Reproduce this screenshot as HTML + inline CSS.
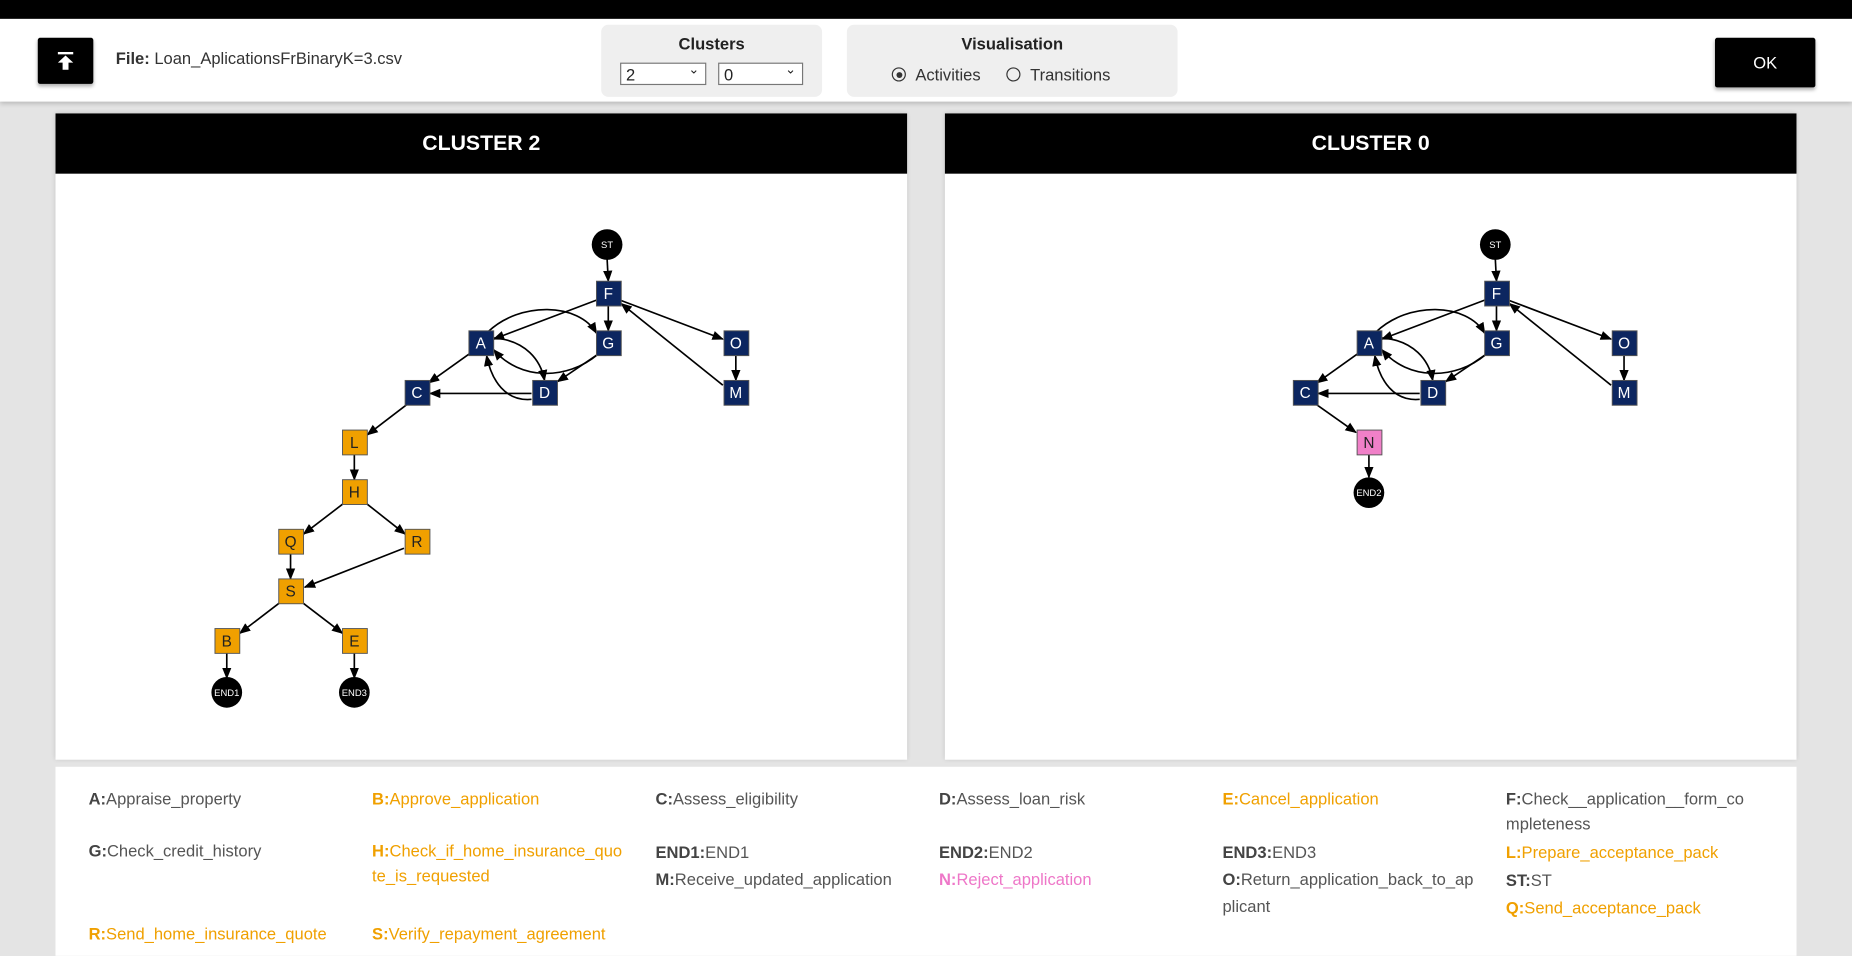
<!DOCTYPE html>
<html><head><meta charset="utf-8"><style>
html,body{margin:0;padding:0;width:1852px;height:944px;overflow:hidden;background:#e4e4e4;}
#w{position:absolute;left:0;top:0;width:1568px;height:799px;transform:scale(1.18112,1.1815);transform-origin:0 0;font-family:"Liberation Sans",sans-serif;}
.abs{position:absolute}
.tb{position:absolute;left:0;top:16px;width:1568px;height:70px;background:#fff;box-shadow:0 2px 4px rgba(0,0,0,.2)}
.grp{position:absolute;background:#efefef;border-radius:6px;top:21px;height:61px}
.grp .t{position:absolute;top:8px;width:100%;text-align:center;font-weight:bold;font-size:14px;color:#222}
.sel{position:absolute;top:32px;height:19px;border:1px solid #777;background:#fff;font-size:14px;color:#222;box-sizing:border-box;padding-left:4px;line-height:18px}
.sel:after{content:"⌄";position:absolute;right:5px;top:-4px;font-size:11px}
.panel{position:absolute;top:96px;width:721px;height:547px;background:#fff;box-shadow:0 0 4px rgba(0,0,0,.15)}
.ph{height:51px;background:#000;color:#fff;font-weight:bold;font-size:18px;text-align:center;line-height:50px}
.leg{position:absolute;left:47px;top:649px;width:1474px;height:160px;background:#fff}
.li{position:absolute;font-size:14px;color:#555;line-height:21px;width:218px;word-break:break-all}
.li b{color:#444}
.o{color:#f0a000}.o b{color:#f0a000}
.p{color:#ee77c8}.p b{color:#ee77c8}
</style></head><body><div id="w">
<div class="abs" style="left:0;top:0;width:1568px;height:16px;background:#000"></div>
<div class="tb"></div>
<div class="abs" style="left:32px;top:32px;width:47px;height:39px;background:#000;border-radius:2px;box-shadow:0 2px 3px rgba(0,0,0,.3)">
<svg width="47" height="39"><rect x="17" y="12" width="13" height="2" fill="#fff"/><path d="M23.5 15 L17 21 H21 V27 H26 V21 H30 Z" fill="#fff"/></svg></div>
<div class="abs" style="left:98px;top:41px;font-size:14px;color:#333"><b>File:</b> Loan_AplicationsFrBinaryK=3.csv</div>
<div class="grp" style="left:509px;width:187px"><div class="t">Clusters</div>
<div class="sel" style="left:16px;width:73px">2</div><div class="sel" style="left:99px;width:72px">0</div></div>
<div class="grp" style="left:717px;width:280px"><div class="t">Visualisation</div>
<div class="abs" style="left:38px;top:34px;font-size:14px;color:#333">
<span style="display:inline-block;width:10px;height:10px;border:1px solid #333;border-radius:50%;position:relative;top:1px;margin-right:8px"><span style="position:absolute;left:2.5px;top:2.5px;width:5px;height:5px;border-radius:50%;background:#333"></span></span>Activities
<span style="display:inline-block;width:10px;height:10px;border:1px solid #333;border-radius:50%;position:relative;top:1px;margin:0 8px 0 18px"></span>Transitions</div></div>
<div class="abs" style="left:1452px;top:32px;width:85px;height:42px;background:#000;color:#fff;font-size:14px;text-align:center;line-height:42px;border-radius:2px;box-shadow:0 2px 3px rgba(0,0,0,.3)">OK</div>

<div class="panel" style="left:47px"><div class="ph">CLUSTER 2</div></div>
<div class="panel" style="left:800px"><div class="ph">CLUSTER 0</div></div>

<svg class="abs" style="left:0;top:0" width="1568" height="650" font-family="Liberation Sans,sans-serif">
<defs><marker id="ar" viewBox="0 0 10 10" refX="9" refY="5" markerWidth="7" markerHeight="7" orient="auto"><path d="M0 1 L10 5 L0 9 Z" fill="#000"/></marker></defs>
<g fill="none" stroke="#000" stroke-width="1.4" marker-end="url(#ar)">
<path d="M514 219 L515 238"/>
<path d="M505 254 L418 287"/>
<path d="M515 259 L515 280"/>
<path d="M525 254 L612 287"/>
<path d="M623 301 L623 322"/>
<path d="M612 326 L526 257"/>
<path d="M413 281 C440 255 490 256 505 282"/>
<path d="M506 300 C480 322 440 322 418 296"/>
<path d="M418 286 C445 288 458 305 461 322"/>
<path d="M450 338 C428 340 416 322 412 301"/>
<path d="M506 300 L472 323"/>
<path d="M450 333 L364 333"/>
<path d="M398 299 L363 324"/>
</g>
<g transform="translate(752,0)" fill="none" stroke="#000" stroke-width="1.4" marker-end="url(#ar)">
<path d="M514 219 L515 238"/>
<path d="M505 254 L418 287"/>
<path d="M515 259 L515 280"/>
<path d="M525 254 L612 287"/>
<path d="M623 301 L623 322"/>
<path d="M612 326 L526 257"/>
<path d="M413 281 C440 255 490 256 505 282"/>
<path d="M506 300 C480 322 440 322 418 296"/>
<path d="M418 286 C445 288 458 305 461 322"/>
<path d="M450 338 C428 340 416 322 412 301"/>
<path d="M506 300 L472 323"/>
<path d="M450 333 L364 333"/>
<path d="M398 299 L363 324"/>
<path d="M362 342 L396 366"/>
<path d="M407 385 L407 404"/>
</g>
<g fill="none" stroke="#000" stroke-width="1.4" marker-end="url(#ar)">
<path d="M345 342 L311 368"/>
<path d="M300 385 L300 406"/>
<path d="M291 426 L257 452"/>
<path d="M310 426 L343 452"/>
<path d="M246 469 L246 490"/>
<path d="M342 464 L258 497"/>
<path d="M237 510 L203 536"/>
<path d="M256 510 L290 536"/>
<path d="M192 553 L192 574"/>
<path d="M300 553 L300 574"/>
</g>
<g font-size="13" text-anchor="middle">
<g fill="#0c2660" stroke="#555" stroke-width="0.8">
<rect x="505" y="238" width="21" height="21"/><rect x="397" y="280" width="21" height="21"/><rect x="505" y="280" width="21" height="21"/><rect x="613" y="280" width="21" height="21"/><rect x="343" y="322" width="21" height="21"/><rect x="451" y="322" width="21" height="21"/><rect x="613" y="322" width="21" height="21"/>
<rect x="1257" y="238" width="21" height="21"/><rect x="1149" y="280" width="21" height="21"/><rect x="1257" y="280" width="21" height="21"/><rect x="1365" y="280" width="21" height="21"/><rect x="1095" y="322" width="21" height="21"/><rect x="1203" y="322" width="21" height="21"/><rect x="1365" y="322" width="21" height="21"/>
</g>
<g fill="#f0a000" stroke="#555" stroke-width="0.8">
<rect x="290" y="364" width="21" height="21"/><rect x="290" y="406" width="21" height="21"/><rect x="236" y="448" width="21" height="21"/><rect x="343" y="448" width="21" height="21"/><rect x="236" y="490" width="21" height="21"/><rect x="182" y="532" width="21" height="21"/><rect x="290" y="532" width="21" height="21"/>
</g>
<rect x="1149" y="364" width="21" height="21" fill="#f080c8" stroke="#555" stroke-width="0.8"/>
<g fill="#000"><circle cx="514" cy="207" r="13"/><circle cx="1266" cy="207" r="13"/><circle cx="192" cy="586" r="13"/><circle cx="300" cy="586" r="13"/><circle cx="1159" cy="417" r="13"/></g>
<g fill="#fff"><text x="515" y="253">F</text><text x="407" y="295">A</text><text x="515" y="295">G</text><text x="623" y="295">O</text><text x="353" y="337">C</text><text x="461" y="337">D</text><text x="623" y="337">M</text>
<text x="1267" y="253">F</text><text x="1159" y="295">A</text><text x="1267" y="295">G</text><text x="1375" y="295">O</text><text x="1105" y="337">C</text><text x="1213" y="337">D</text><text x="1375" y="337">M</text>
<g font-size="8"><text x="514" y="210">ST</text><text x="1266" y="210">ST</text><text x="192" y="589">END1</text><text x="300" y="589">END3</text><text x="1159" y="420">END2</text></g></g>
<g fill="#222"><text x="300" y="379">L</text><text x="300" y="421">H</text><text x="246" y="463">Q</text><text x="353" y="463">R</text><text x="246" y="505">S</text><text x="192" y="547">B</text><text x="300" y="547">E</text><text x="1159" y="379">N</text></g>
</g></svg>

<div class="leg"></div>
<div class="li" style="left:75px;top:666px"><b>A:</b>Appraise_property</div>
<div class="li o" style="left:315px;top:666px"><b>B:</b>Approve_application</div>
<div class="li" style="left:555px;top:666px"><b>C:</b>Assess_eligibility</div>
<div class="li" style="left:795px;top:666px"><b>D:</b>Assess_loan_risk</div>
<div class="li o" style="left:1035px;top:666px"><b>E:</b>Cancel_application</div>
<div class="li" style="left:1275px;top:666px"><b>F:</b>Check__application__form_co<br>mpleteness</div>
<div class="li" style="left:75px;top:710px"><b>G:</b>Check_credit_history</div>
<div class="li o" style="left:315px;top:710px"><b>H:</b>Check_if_home_insurance_quo<br>te_is_requested</div>
<div class="li" style="left:555px;top:710px;line-height:23px"><b>END1:</b>END1<br><b>M:</b>Receive_updated_application</div>
<div class="li" style="left:795px;top:710px;line-height:23px"><b>END2:</b>END2<br><span class="p"><b>N:</b>Reject_application</span></div>
<div class="li" style="left:1035px;top:710px;line-height:23px"><b>END3:</b>END3<br><span style="line-height:21px"><b>O:</b>Return_application_back_to_ap<br>plicant</span></div>
<div class="li" style="left:1275px;top:710px;line-height:23.5px"><span class="o"><b>L:</b>Prepare_acceptance_pack</span><br><b>ST:</b>ST<br><span class="o"><b>Q:</b>Send_acceptance_pack</span></div>
<div class="li o" style="left:75px;top:780px"><b>R:</b>Send_home_insurance_quote</div>
<div class="li o" style="left:315px;top:780px"><b>S:</b>Verify_repayment_agreement</div>
</div></body></html>
